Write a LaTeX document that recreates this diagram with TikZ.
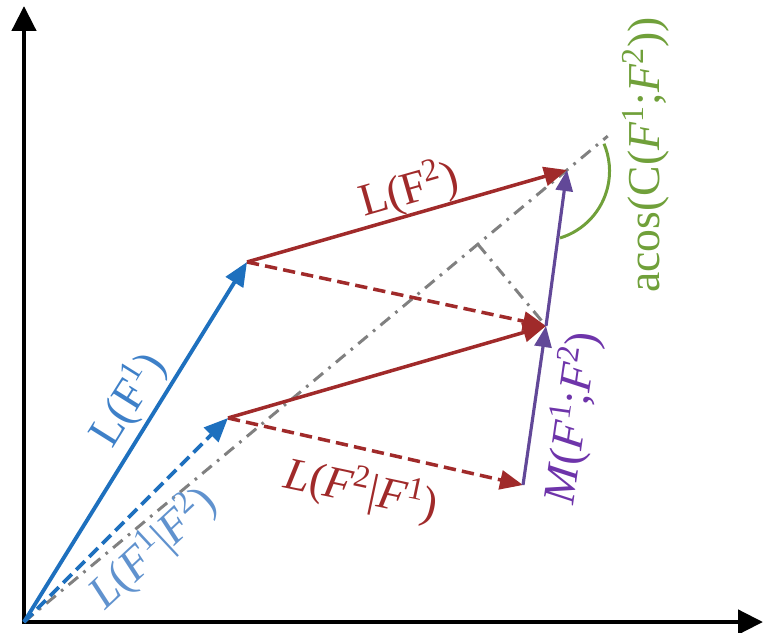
\documentclass[tikz,border=0pt]{standalone}
\usepackage{fontspec}
\setmainfont{Liberation Serif}
\usetikzlibrary{arrows.meta, calc}

\definecolor{vecblue}{RGB}{30,112,190}
\definecolor{txtblue}{RGB}{62,128,200}
\definecolor{lightblue}{RGB}{96,146,206}
\definecolor{vecred}{RGB}{160,42,42}
\definecolor{vecpurple}{RGB}{98,72,152}
\definecolor{txtpurple}{RGB}{110,52,170}
\definecolor{anglegreen}{RGB}{112,160,58}

\begin{document}
\begin{tikzpicture}[x=0.02cm, y=-0.02cm,
			axis/.style={line width=2.6pt, {Triangle[length=0.5cm, width=0.48cm]}-{Triangle[length=0.5cm, width=0.48cm]}},
			bluevec/.style={vecblue, line width=2.2pt, -{Triangle[length=0.48cm, width=0.4cm]}},
			redvec/.style={vecred, line width=2pt, -{Triangle[length=0.46cm, width=0.38cm]}},
			purplevec/.style={vecpurple, line width=1.8pt, -{Triangle[length=0.42cm, width=0.34cm]}},
			dashvec/.style={dash pattern=on 7pt off 3.5pt},
			guide/.style={gray, line width=1.7pt, dash pattern=on 7pt off 4pt on 1.5pt off 4pt},
			lbl/.style={font=\fontsize{26}{30}\selectfont, inner sep=0pt}
			]
			\useasboundingbox (0,0) rectangle (763,632);
			
			\coordinate (origin) at (24,622);
			\coordinate (yend) at (24,6);
			\coordinate (xend) at (763,622);
			\coordinate (lFone) at (247,262);
			\coordinate (lFoneCond) at (228,418);
			\coordinate (lJoint) at (567,170);
			\coordinate (lMid) at (546,326);
			\coordinate (lCond) at (523,485);
			\coordinate (diagEnd) at ($(origin)!1.075!(lJoint)$);
			\coordinate (foot) at ($(origin)!(lMid)!(lJoint)$);
			
			\draw[axis] (yend) -- (origin) -- (xend);
			
			\draw[guide] (origin) -- (diagEnd);
			\draw[guide] (foot) -- (lMid);
			
			\draw[bluevec] (origin) -- (lFone);
			\draw[bluevec, dashvec] (origin) -- (lFoneCond);
			
			\draw[redvec] (lFone) -- (lJoint);
			\draw[redvec, dashvec] (lFone) -- (lMid);
			\draw[redvec] (lFoneCond) -- (lMid);
			\draw[redvec, dashvec] (lFoneCond) -- (lCond);
			
			\draw[purplevec] (lCond) -- (lMid);
			\draw[purplevec] (lMid) -- (lJoint);
			
			\draw[anglegreen, line width=1.7pt] (560,238) arc[start angle=73, end angle=-23, radius=70];
			
			\node[lbl, txtblue, rotate=58] (lblFone) at (128,400) {L(F\textsuperscript{1})};
			\node[lbl, vecred, rotate=16] (lblFtwo) at (409,190) {L(F\textsuperscript{2})};
			\node[lbl, vecred, rotate=-12] (lblFtwoCond) at (361,490) {\textit{L}(\textit{F}\textsuperscript{2}|\textit{F}\textsuperscript{1})};
			\node[lbl, lightblue, rotate=43] (lblFoneCond) at (153,548) {\textit{L}(\textit{F}\textsuperscript{1}|\textit{F}\textsuperscript{2})};
			\node[lbl, txtpurple, rotate=82] (lblMutual) at (572,418) {\textit{M}(\textit{F}\textsuperscript{1};\textit{F}\textsuperscript{2})};
			\node[lbl, anglegreen, rotate=90] (lblAcos) at (646,155) {acos(C(\textit{F}\textsuperscript{1};\textit{F}\textsuperscript{2}))};
	\end{tikzpicture}
\end{document}
